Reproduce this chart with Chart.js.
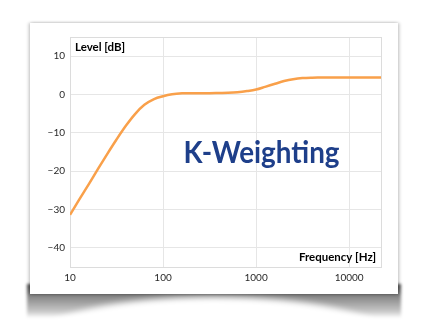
<!DOCTYPE html>
<html>
<head>
<meta charset="utf-8">
<script src="https://cdn.jsdelivr.net/npm/chart.js@4"></script>
<style>
  html, body { margin: 0; padding: 0; background: #fff; }
  #page { position: relative; width: 423px; height: 332px; overflow: hidden; background: #fff; }
  .shade { position: absolute; left: 27px; top: 284px; width: 374px; height: 34px;
           background: linear-gradient(to bottom, rgba(0,0,0,0.7), rgba(0,0,0,0.45) 40%, rgba(0,0,0,0.22) 80%, rgba(0,0,0,0));
           filter: blur(1.5px); }
  .shadeMask { position: absolute; left: 40px; top: 297px; width: 348px; height: 80px;
               border-radius: 50%; background: #fff; filter: blur(3px); }
  .card { position: absolute; left: 30px; top: 23px; width: 368px; height: 271px; background: #fff;
          box-shadow: 0 0 3px rgba(0,0,0,0.18), 2px 0 3px rgba(0,0,0,0.12), -2px 0 3px rgba(0,0,0,0.12); }
  canvas { position: absolute; left: 0; top: 0; }
</style>
</head>
<body>
<div id="page">
  <div class="shade"></div>
  <div class="shadeMask"></div>
  <div class="card"></div>
  <canvas id="c" width="423" height="332"></canvas>
</div>
<script>
// Frequency response of the K-weighting filter
const freqs = [10, 12.5, 16, 20, 25, 31.5, 40, 50, 63, 80, 100, 125, 160, 200, 250, 315, 400, 500, 630, 800,
               1000, 1250, 1600, 2000, 2500, 3150, 4000, 5000, 6300, 8000, 10000, 12500, 16000, 20000, 22000];
const levels = [-31.4, -27.5, -23.3, -19.4, -15.6, -11.8, -8.1, -5.1, -2.7, -1.2, -0.45, 0.05, 0.3, 0.35, 0.35, 0.35,
                0.4, 0.45, 0.6, 0.9, 1.3, 2.0, 2.8, 3.5, 4.0, 4.3, 4.4, 4.42, 4.45, 4.45, 4.45, 4.45, 4.45, 4.45, 4.45];
const xTicks = [10, 100, 1000, 10000];
const yTicks = [-40, -30, -20, -10, 0, 10];
const yLabel = 'Level [dB]';
const xLabel = 'Frequency [Hz]';
const title = 'K-Weighting';

const points = freqs.map((f, i) => ({ x: f, y: levels[i] }));

const labelsPlugin = {
  id: 'labels',
  beforeDatasetsDraw(chart) {
    const { ctx, chartArea: a } = chart;
    ctx.save();
    ctx.strokeStyle = '#dcdcdc';
    ctx.lineWidth = 1;
    ctx.strokeRect(Math.round(a.left) + 0.5, Math.round(a.top) + 0.5,
                   Math.round(a.right - a.left), Math.round(a.bottom - a.top));
    ctx.restore();
  },
  afterDraw(chart) {
    const { ctx, chartArea: a } = chart;
    ctx.save();
    ctx.fillStyle = '#000';
    ctx.font = 'bold 11.5px Lato';
    ctx.textBaseline = 'middle';
    ctx.textAlign = 'left';
    ctx.fillText(yLabel, a.left + 5, a.top + 10, 51);
    ctx.textAlign = 'right';
    ctx.fillText(xLabel, a.right - 5, a.bottom - 10, 77);
    ctx.fillStyle = '#1e3f8a';
    ctx.font = 'bold 30px Lato';
    ctx.textAlign = 'center';
    ctx.textBaseline = 'alphabetic';
    ctx.fillText(title, 261.5, 163, 156);
    ctx.restore();
  }
};

new Chart(document.getElementById('c'), {
  type: 'line',
  data: {
    datasets: [{
      data: points,
      borderColor: '#f9a04a',
      borderWidth: 2.5,
      pointRadius: 0,
      fill: false,
      cubicInterpolationMode: 'monotone'
    }]
  },
  options: {
    responsive: false,
    animation: false,
    events: [],
    layout: { padding: { left: 0, top: 37, right: 42, bottom: 43 } },
    plugins: { legend: { display: false }, tooltip: { enabled: false } },
    scales: {
      x: {
        type: 'logarithmic',
        min: 10,
        max: 22000,
        afterBuildTicks: s => { s.ticks = xTicks.map(v => ({ value: v })); },
        grid: { color: '#e6e6e6', drawTicks: false },
        border: { display: true, color: '#cfcfcf' },
        ticks: {
          color: '#2a2a2a',
          font: { family: 'Lato', size: 10 },
          padding: 5,
          maxRotation: 0,
          autoSkip: false,
          callback: v => String(v)
        }
      },
      y: {
        min: -45,
        max: 15,
        afterBuildTicks: s => { s.ticks = yTicks.map(v => ({ value: v })); },
        afterFit: s => { s.width = 70; },
        grid: { color: '#e6e6e6', drawTicks: false },
        border: { display: true, color: '#cfcfcf' },
        ticks: {
          color: '#2a2a2a',
          font: { family: 'Lato', size: 10 },
          padding: 5,
          callback: v => (v < 0 ? '\u2212' + Math.abs(v) : String(v))
        }
      }
    }
  },
  plugins: [labelsPlugin]
});
</script>
</body>
</html>
